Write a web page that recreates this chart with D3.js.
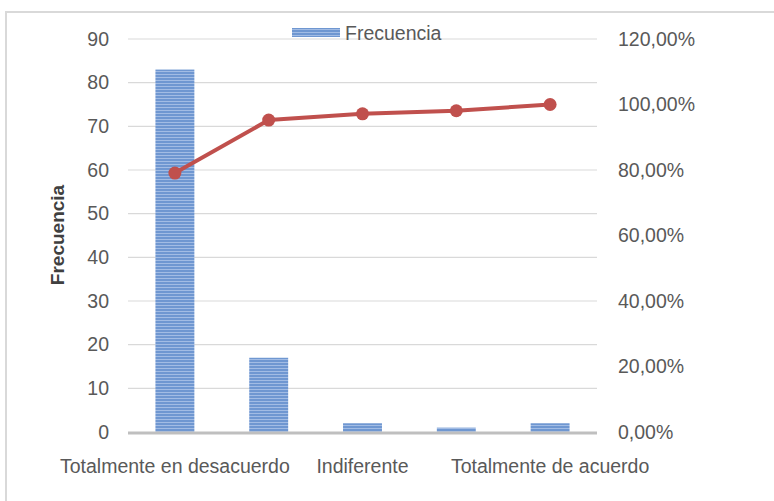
<!DOCTYPE html>
<html>
<head>
<meta charset="utf-8">
<script src="https://cdn.jsdelivr.net/npm/d3@7"></script>
<style>
  body { margin: 0; background: #fff; }
  svg { display: block; font-family: 'Liberation Sans', Arial, sans-serif; }
</style>
</head>
<body>
<div id="chart"></div>
<script>
const width = 774;
const height = 501;

const categories = ['Totalmente en desacuerdo', 'En desacuerdo', 'Indiferente', 'De acuerdo', 'Totalmente de acuerdo'];
const frecuencia = [83, 17, 2, 1, 2];
const acumulado = [0.7905, 0.9524, 0.9714, 0.981, 1.0];
const shownLabels = ['Totalmente en desacuerdo', 'Indiferente', 'Totalmente de acuerdo'];
const leftTicks = [0, 10, 20, 30, 40, 50, 60, 70, 80, 90];
const rightTicks = [0, 0.2, 0.4, 0.6, 0.8, 1.0, 1.2];

const margin = { top: 39, right: 177, bottom: 69, left: 128 };
const plotW = width - margin.left - margin.right;
const fontSize = 19.5;

const svg = d3.select('#chart').append('svg')
    .attr('width', width)
    .attr('height', height);

// striped bar fill
const defs = svg.append('defs');
const pat = defs.append('pattern')
    .attr('id', 'stripes')
    .attr('patternUnits', 'userSpaceOnUse')
    .attr('width', 8)
    .attr('height', 3);
pat.append('rect').attr('width', 8).attr('height', 3).attr('fill', '#6f97d1');
pat.append('rect').attr('y', 2).attr('width', 8).attr('height', 1).attr('fill', '#a2bce4');

// chart border
svg.append('rect')
    .attr('x', 6).attr('y', 12)
    .attr('width', 800).attr('height', 520)
    .attr('fill', 'none')
    .attr('stroke', '#d9d9d9')
    .attr('stroke-width', 2);

const x = d3.scaleBand()
    .domain(categories)
    .range([margin.left, margin.left + plotW])
    .paddingInner(0.585)
    .paddingOuter(0.2925);

const y = d3.scaleLinear()
    .domain([0, 90])
    .range([432, 39]);

const y2 = d3.scaleLinear()
    .domain([0, 1.2])
    .range([432, 39]);

// gridlines
svg.append('g')
  .selectAll('line')
  .data(leftTicks.filter(d => d > 0))
  .join('line')
    .attr('x1', margin.left)
    .attr('x2', margin.left + plotW)
    .attr('y1', d => y(d))
    .attr('y2', d => y(d))
    .attr('stroke', '#d9d9d9')
    .attr('stroke-width', 1.2);

// left axis
const leftAxis = svg.append('g')
    .attr('transform', `translate(${margin.left},0)`)
    .call(d3.axisLeft(y).tickValues(leftTicks).tickSize(0).tickPadding(19));
leftAxis.select('.domain').remove();
leftAxis.selectAll('text')
    .attr('font-size', fontSize)
    .attr('font-family', "'Liberation Sans', Arial, sans-serif")
    .attr('fill', '#595959');

// right axis
const fmtPct = d => d3.format('.2f')(d * 100).replace('.', ',') + '%';
const rightAxis = svg.append('g')
    .attr('transform', `translate(${margin.left + plotW},0)`)
    .call(d3.axisRight(y2).tickValues(rightTicks).tickFormat(fmtPct).tickSize(0).tickPadding(21));
rightAxis.select('.domain').remove();
rightAxis.selectAll('text')
    .attr('font-size', fontSize)
    .attr('font-family', "'Liberation Sans', Arial, sans-serif")
    .attr('fill', '#595959');

// bars
svg.append('g')
  .selectAll('rect')
  .data(frecuencia)
  .join('rect')
    .attr('x', (d, i) => x(categories[i]))
    .attr('y', d => y(d))
    .attr('width', x.bandwidth())
    .attr('height', d => y(0) - y(d))
    .attr('fill', 'url(#stripes)');

// baseline
svg.append('line')
    .attr('x1', margin.left)
    .attr('x2', margin.left + plotW)
    .attr('y1', y(0) + 1)
    .attr('y2', y(0) + 1)
    .attr('stroke', '#bfbfbf')
    .attr('stroke-width', 3);

// x labels
svg.append('g')
    .attr('font-size', fontSize)
    .attr('fill', '#595959')
    .attr('text-anchor', 'middle')
  .selectAll('text')
  .data(shownLabels)
  .join('text')
    .attr('x', d => x(d) + x.bandwidth() / 2)
    .attr('y', 473)
    .text(d => d);

// cumulative line
const line = d3.line()
    .x((d, i) => x(categories[i]) + x.bandwidth() / 2)
    .y(d => y2(d));

svg.append('path')
    .datum(acumulado)
    .attr('d', line)
    .attr('fill', 'none')
    .attr('stroke', '#c0504d')
    .attr('stroke-width', 4)
    .attr('stroke-linejoin', 'round');

svg.append('g')
  .selectAll('circle')
  .data(acumulado)
  .join('circle')
    .attr('cx', (d, i) => x(categories[i]) + x.bandwidth() / 2)
    .attr('cy', d => y2(d))
    .attr('r', 6.5)
    .attr('fill', '#c0504d');

// y title
svg.append('text')
    .attr('transform', 'translate(64,235) rotate(-90)')
    .attr('text-anchor', 'middle')
    .attr('font-size', 19)
    .attr('font-weight', 'bold')
    .attr('fill', '#404040')
    .text('Frecuencia');

// legend
const legend = svg.append('g');
legend.append('rect')
    .attr('x', 292).attr('y', 28)
    .attr('width', 48).attr('height', 9)
    .attr('fill', 'url(#stripes)');
legend.append('text')
    .attr('x', 345).attr('y', 40)
    .attr('font-size', fontSize)
    .attr('fill', '#595959')
    .text('Frecuencia');
</script>
</body>
</html>
